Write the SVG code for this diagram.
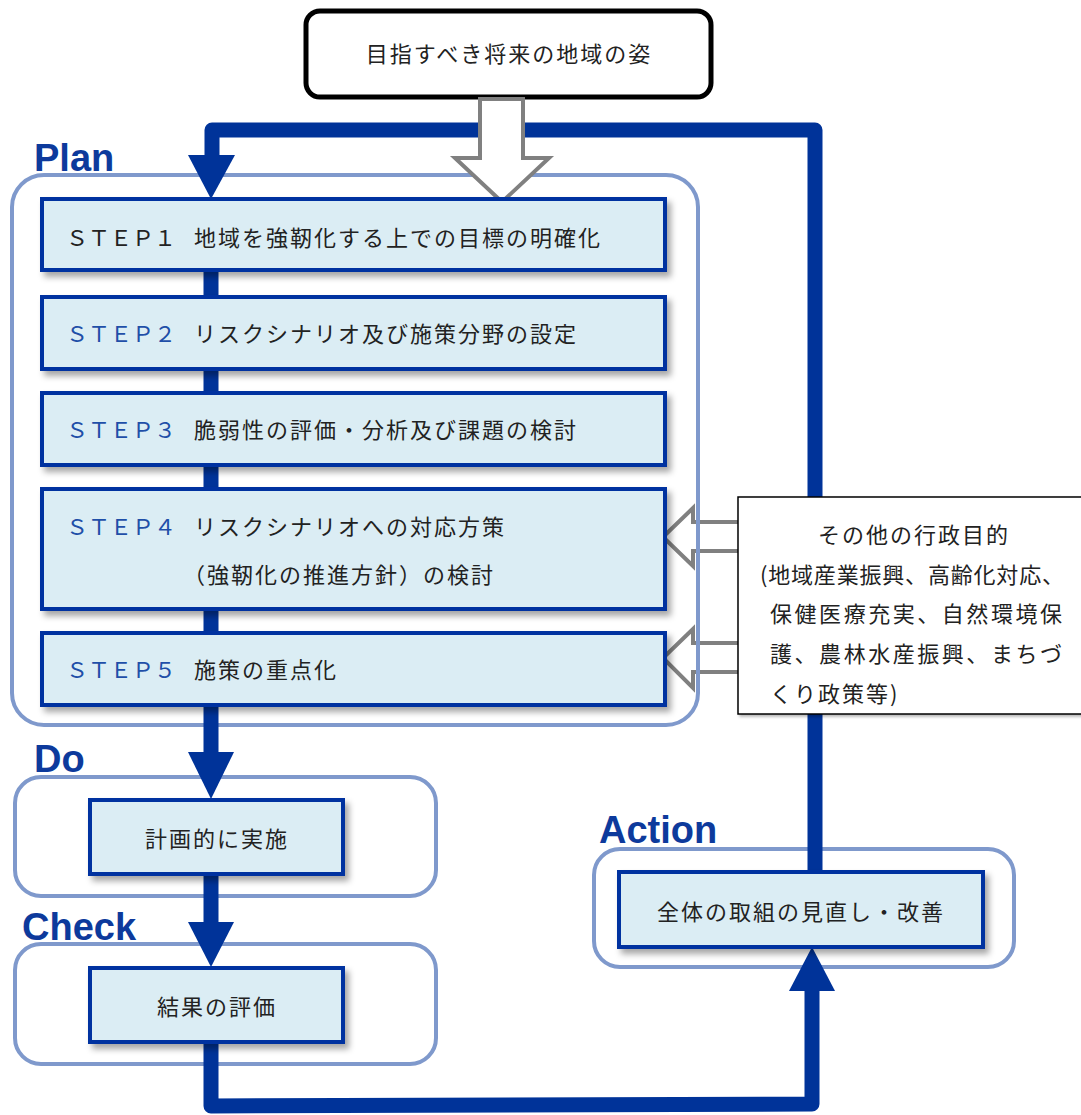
<svg xmlns="http://www.w3.org/2000/svg" width="1081" height="1115" viewBox="0 0 1081 1115">
<defs>
<filter id="sh" x="-10%" y="-10%" width="130%" height="140%">
<feDropShadow dx="4" dy="5" stdDeviation="3" flood-color="#000" flood-opacity="0.35"/>
</filter>
<filter id="sh2" x="-10%" y="-10%" width="130%" height="130%">
<feDropShadow dx="2" dy="2" stdDeviation="1.5" flood-color="#000" flood-opacity="0.3"/>
</filter>
<style>
.cont{fill:none;stroke:#7f99cc;stroke-width:4}
.node{fill:#dbedf4;stroke:#0033a0;stroke-width:4;filter:url(#sh)}
.jp{font-family:"Noto Sans CJK JP","Noto Sans",sans-serif;font-size:22px;fill:#222;letter-spacing:2px;dominant-baseline:central}
.step{font-family:"Noto Sans CJK JP","Noto Sans",sans-serif;font-size:22px;fill:#1f4fa8;dominant-baseline:central}
.lbl{font-family:"Liberation Sans",Arial,sans-serif;font-weight:bold;font-size:38px;fill:#0d3a9c}
.blue{fill:none;stroke:#003399;stroke-width:15;stroke-linejoin:round}
.head{fill:#003399}
.hollow{fill:#fff;stroke:#808080;stroke-width:4}
</style>
</defs>

<g id="left-arrows">
<polygon class="hollow" points="745,522 693,522 693,508 663,537 693,566 693,551 745,551"/>
<polygon class="hollow" points="745,643 693,643 693,629 663,658 693,688 693,672 745,672"/>
</g>

<g id="containers">
<rect id="plan-box" class="cont" x="12" y="175" width="686" height="550" rx="32"/>
<rect id="do-box" class="cont" x="15" y="777" width="421" height="119" rx="26"/>
<rect id="check-box" class="cont" x="15" y="944" width="421" height="120" rx="26"/>
<rect id="action-box" class="cont" x="594" y="849" width="420" height="118" rx="26"/>
<text class="lbl" x="34" y="171">Plan</text>
<text class="lbl" x="34" y="772">Do</text>
<text class="lbl" x="22" y="940">Check</text>
<text class="lbl" x="599" y="843">Action</text>
</g>

<g id="connectors">
<polyline class="blue" points="815,872 815,130 212,130 212,158"/>
<polygon class="head" points="188,155 235,155 211,199"/>
<line class="blue" x1="211" y1="200" x2="211" y2="754"/>
<polygon class="head" points="188,752 234,752 211,799"/>
<line class="blue" x1="211" y1="872" x2="211" y2="924"/>
<polygon class="head" points="188,922 234,922 211,967"/>
<polyline class="blue" points="211,1040 211,1106 812,1104 812,990"/>
<polygon class="head" points="789,991 835,991 812,947"/>
</g>

<g id="top-node">
<rect x="306" y="11" width="405" height="86" rx="14" fill="#fff" stroke="#000" stroke-width="5"/>
<text class="jp" x="509" y="52" text-anchor="middle">目指すべき将来の地域の姿</text>
</g>

<g id="down-arrow">
<polygon class="hollow" points="480,99 523,99 523,158 549,158 502,202 455,158 480,158"/>
</g>

<g id="step1">
<rect class="node" x="42" y="199" width="623" height="71"/>
<text class="step" x="66" y="236" fill="#222" style="fill:#222">ＳＴＥＰ１</text>
<text class="jp" x="194" y="236">地域を強靭化する上での目標の明確化</text>
</g>
<g id="step2">
<rect class="node" x="42" y="297" width="623" height="72"/>
<text class="step" x="66" y="332">ＳＴＥＰ２</text>
<text class="jp" x="194" y="332">リスクシナリオ及び施策分野の設定</text>
</g>
<g id="step3">
<rect class="node" x="42" y="393" width="623" height="72"/>
<text class="step" x="66" y="428">ＳＴＥＰ３</text>
<text class="jp" x="194" y="428">脆弱性の評価・分析及び課題の検討</text>
</g>
<g id="step4">
<rect class="node" x="42" y="489" width="623" height="120"/>
<text class="step" x="66" y="525">ＳＴＥＰ４</text>
<text class="jp" x="194" y="525">リスクシナリオへの対応方策</text>
<text class="jp" x="183" y="573">（強靭化の推進方針）の検討</text>
</g>
<g id="step5">
<rect class="node" x="42" y="633" width="623" height="72"/>
<text class="step" x="66" y="668">ＳＴＥＰ５</text>
<text class="jp" x="194" y="668">施策の重点化</text>
</g>

<g id="do-node">
<rect class="node" x="90" y="800" width="253" height="74"/>
<text class="jp" x="217" y="837" text-anchor="middle">計画的に実施</text>
</g>
<g id="check-node">
<rect class="node" x="90" y="968" width="253" height="74"/>
<text class="jp" x="217" y="1005" text-anchor="middle">結果の評価</text>
</g>
<g id="action-node">
<rect class="node" x="619" y="872" width="364" height="75"/>
<text class="jp" x="801" y="910" text-anchor="middle">全体の取組の見直し・改善</text>
</g>

<g id="other-goals">
<rect x="738" y="497" width="360" height="217" fill="#fff" stroke="#000" stroke-width="1.5" filter="url(#sh2)"/>
<text class="jp" x="914" y="533" text-anchor="middle">その他の行政目的</text>
<text class="jp" x="760" y="573" textLength="304" lengthAdjust="spacing" style="letter-spacing:0">(地域産業振興、高齢化対応、</text>
<text class="jp" x="770" y="612" textLength="292" lengthAdjust="spacing" style="letter-spacing:0">保健医療充実、自然環境保</text>
<text class="jp" x="770" y="652" textLength="292" lengthAdjust="spacing" style="letter-spacing:0">護、農林水産振興、まちづ</text>
<text class="jp" x="770" y="692">くり政策等)</text>
</g>
</svg>
